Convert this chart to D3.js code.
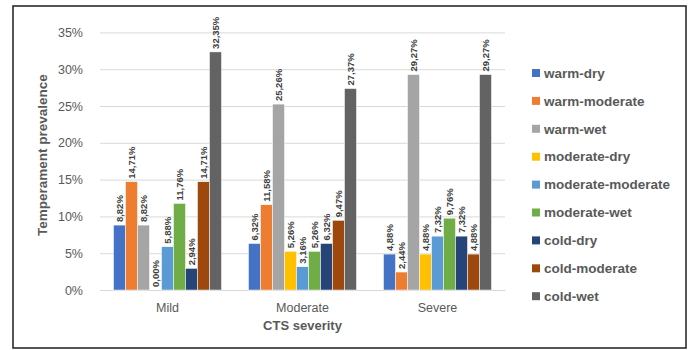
<!DOCTYPE html>
<html>
<head>
<meta charset="utf-8">
<script src="https://cdn.jsdelivr.net/npm/d3@7/dist/d3.min.js"></script>
<style>
  html, body { margin: 0; padding: 0; background: #fff; }
  svg { display: block; font-family: "Liberation Sans", Arial, sans-serif; }
</style>
</head>
<body>
<svg id="chart" width="691" height="350"></svg>
<script>
// Severity groups on the x axis
const categories = ["Mild", "Moderate", "Severe"];

// Temperament types (one bar per type within each group)
const series = ["warm-dry", "warm-moderate", "warm-wet", "moderate-dry", "moderate-moderate",
                "moderate-wet", "cold-dry", "cold-moderate", "cold-wet"];

// Prevalence (%) per temperament, in the order Mild, Moderate, Severe
const warmDry          = [8.82, 6.32, 4.88];
const warmModerate     = [14.71, 11.58, 2.44];
const warmWet          = [8.82, 25.26, 29.27];
const moderateDry      = [0.00, 5.26, 4.88];
const moderateModerate = [5.88, 3.16, 7.32];
const moderateWet      = [11.76, 5.26, 9.76];
const coldDry          = [2.94, 6.32, 7.32];
const coldModerate     = [14.71, 9.47, 4.88];
const coldWet          = [32.35, 27.37, 29.27];

const seriesValues = [warmDry, warmModerate, warmWet, moderateDry, moderateModerate,
                      moderateWet, coldDry, coldModerate, coldWet];

const colors = ["#4472C4", "#ED7D31", "#A5A5A5", "#FFC000", "#5B9BD5",
                "#70AD47", "#264478", "#9E480E", "#636363"];

const yTicks = [0, 5, 10, 15, 20, 25, 30, 35];

const svg = d3.select("#chart");

// Outer frame
svg.append("rect")
  .attr("x", 13).attr("y", 6)
  .attr("width", 673).attr("height", 342)
  .attr("fill", "#fff")
  .attr("stroke", "#2b2b2b")
  .attr("stroke-width", 1.6);

const plot = { left: 100, right: 505, top: 32.4, bottom: 290 };

const x0 = d3.scaleBand()
  .domain(categories)
  .range([plot.left, plot.right])
  .paddingInner(0.2)
  .paddingOuter(0.1);

const x1 = d3.scaleBand()
  .domain(series)
  .range([0, x0.bandwidth()])
  .padding(0);

const y = d3.scaleLinear()
  .domain([0, 35])
  .range([plot.bottom, plot.top]);

const color = d3.scaleOrdinal().domain(series).range(colors);

// Horizontal gridlines and y tick labels
const yAxis = d3.axisLeft(y)
  .tickValues(yTicks)
  .tickSize(-(plot.right - plot.left))
  .tickPadding(17)
  .tickFormat(d => d + "%");

const gy = svg.append("g")
  .attr("transform", `translate(${plot.left},0)`)
  .call(yAxis);
gy.select(".domain").remove();
gy.selectAll(".tick line").attr("stroke", "#D9D9D9").attr("stroke-width", 1);
gy.selectAll(".tick text")
  .attr("fill", "#595959")
  .attr("font-size", "12.5px");

// Category axis
const xAxis = d3.axisBottom(x0).tickSize(0).tickPadding(13);
const gx = svg.append("g")
  .attr("transform", `translate(0,${plot.bottom})`)
  .call(xAxis);
gx.select(".domain").attr("stroke", "#D9D9D9").attr("stroke-width", 1);
gx.selectAll(".tick text")
  .attr("fill", "#595959")
  .attr("font-size", "12.5px");

// Bars
const rows = categories.map((c, ci) => ({
  category: c,
  values: series.map((s, si) => ({ key: s, value: seriesValues[si][ci] }))
}));

const groups = svg.append("g").selectAll("g")
  .data(rows)
  .join("g")
  .attr("transform", d => `translate(${x0(d.category)},0)`);

groups.selectAll("rect")
  .data(d => d.values)
  .join("rect")
  .attr("x", d => x1(d.key))
  .attr("y", d => y(d.value))
  .attr("width", x1.bandwidth())
  .attr("height", d => y(0) - y(d.value))
  .attr("fill", d => color(d.key))
  .attr("stroke", "#fff")
  .attr("stroke-width", 0.5);

// Value labels, rotated to read upwards
const fmt = v => v.toFixed(2).replace(".", ",") + "%";
groups.selectAll("text.val")
  .data(d => d.values)
  .join("text")
  .attr("class", "val")
  .attr("transform", d => `translate(${x1(d.key) + x1.bandwidth() / 2},${y(d.value) - 3}) rotate(-90)`)
  .attr("dy", "0.35em")
  .attr("text-anchor", "start")
  .attr("font-size", "9.5px")
  .attr("font-weight", "bold")
  .attr("fill", "#404040")
  .text(d => fmt(d.value));

// Axis titles
svg.append("text")
  .attr("transform", `translate(47,${(plot.top + plot.bottom) / 2 - 6}) rotate(-90)`)
  .attr("text-anchor", "middle")
  .attr("font-size", "13.5px")
  .attr("font-weight", "bold")
  .attr("fill", "#595959")
  .text("Temperament prevalence");

svg.append("text")
  .attr("x", (plot.left + plot.right) / 2)
  .attr("y", 330)
  .attr("text-anchor", "middle")
  .attr("font-size", "13px")
  .attr("font-weight", "bold")
  .attr("fill", "#595959")
  .text("CTS severity");

// Legend
const legend = svg.append("g")
  .attr("transform", "translate(532,73)");
const items = legend.selectAll("g")
  .data(series)
  .join("g")
  .attr("transform", (d, i) => `translate(0,${i * 27.9})`);
items.append("rect")
  .attr("x", 0).attr("y", -4)
  .attr("width", 8).attr("height", 8)
  .attr("fill", d => color(d));
items.append("text")
  .attr("x", 12)
  .attr("dy", "0.35em")
  .attr("font-size", "13.5px")
  .attr("font-weight", "bold")
  .attr("fill", "#595959")
  .text(d => d);
</script>
</body>
</html>
